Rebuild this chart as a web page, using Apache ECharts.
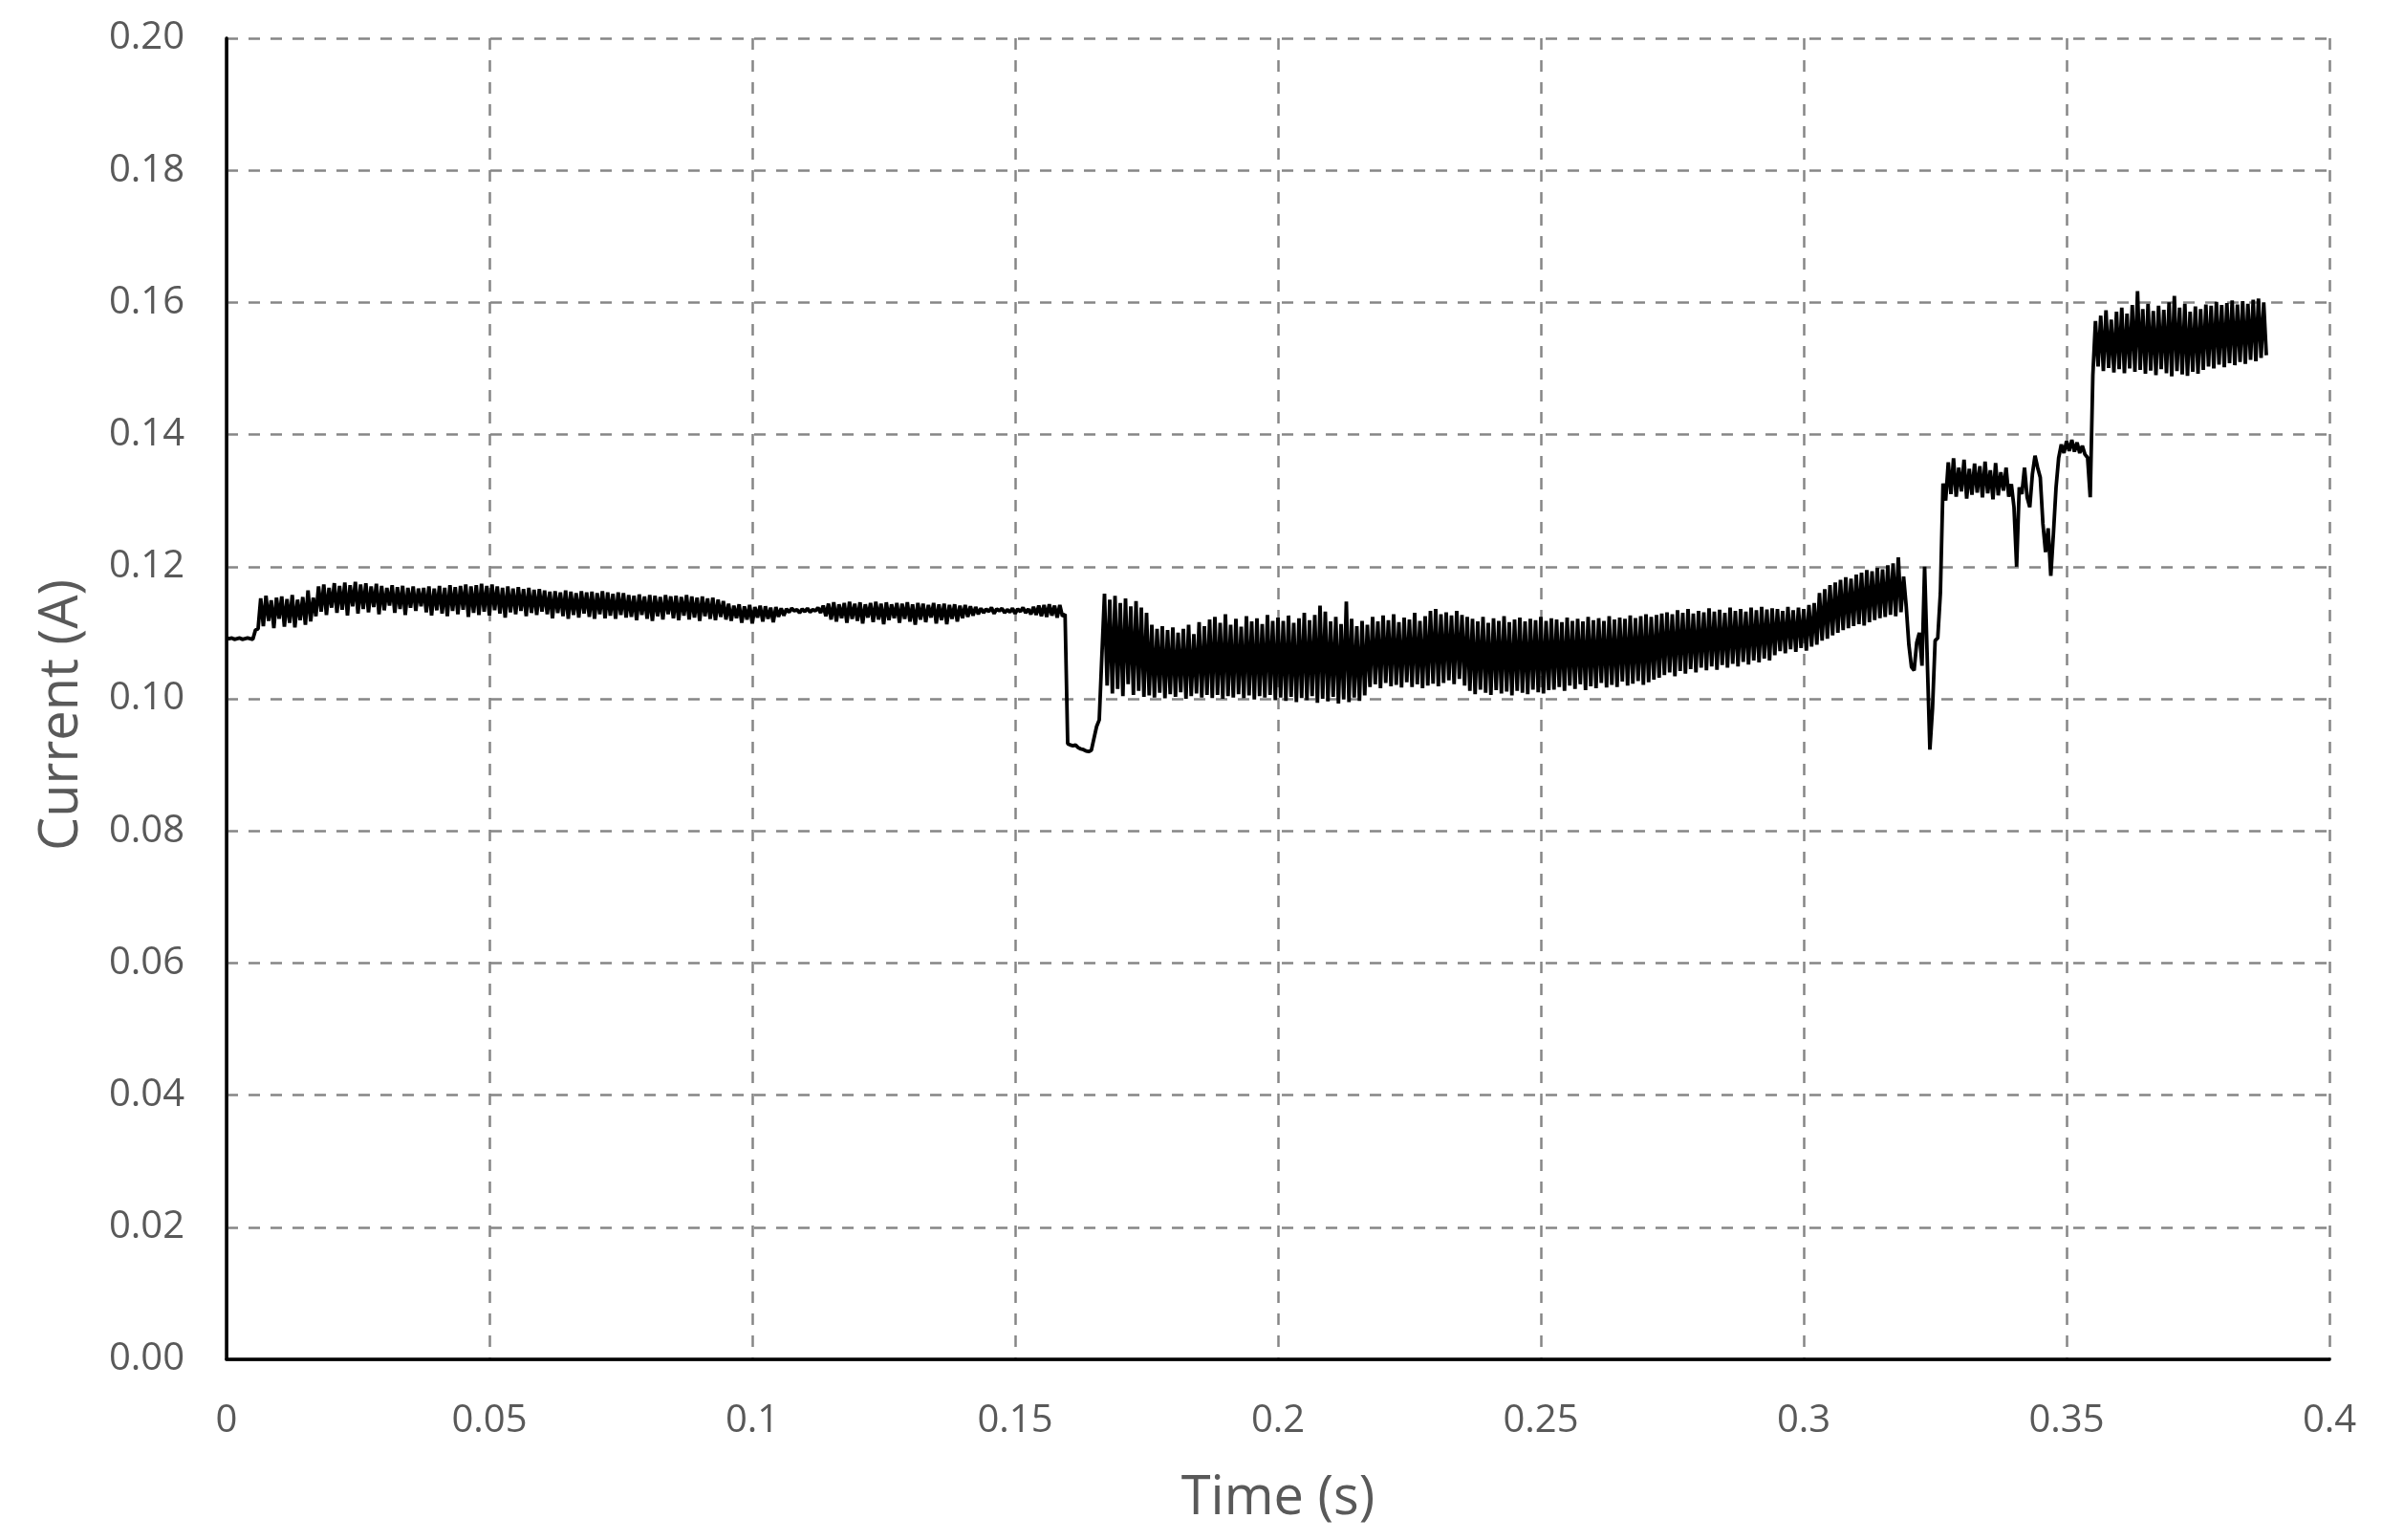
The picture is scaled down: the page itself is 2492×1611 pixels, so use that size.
<!DOCTYPE html>
<html>
<head>
<meta charset="utf-8">
<script src="https://cdn.jsdelivr.net/npm/echarts@6/dist/echarts.min.js"></script>
<style>
  html, body { margin: 0; padding: 0; background: #ffffff; }
  #chart { width: 2492px; height: 1611px; }
</style>
</head>
<body>
<div id="chart"></div>
<script>
// Sampling interval of the recorded current (s)
const SAMPLE_DT = 0.0005;

// Tick labels
const xTickLabels = ['0', '0.05', '0.1', '0.15', '0.2', '0.25', '0.3', '0.35', '0.4'];
const yTickLabels = ['0.00', '0.02', '0.04', '0.06', '0.08', '0.10', '0.12', '0.14', '0.16', '0.18', '0.20'];

// Current (A), consecutive samples
const idleStart = [0.1092,0.1091,0.1092,0.1090,0.1091,0.1092,0.1090,0.1091,0.1092,0.1091,0.1090,0.1104,0.1106];
const rampA = [0.1152,0.1110,0.1156,0.1118,0.1149,0.1107,0.1153,0.1121,0.1155,0.1109,0.1151,0.1115,0.1157,0.1108,0.1150,0.1119,0.1154,0.1112,0.1164,0.1117,0.1153,0.1125];
const plateauA = [0.1170,0.1132,0.1173,0.1127,0.1168,0.1138,0.1175,0.1130,0.1171,0.1135,0.1176,0.1126,0.1172,0.1140,0.1177,0.1129,0.1173,0.1136,0.1175,0.1131,0.1170,0.1139,0.1174,0.1128,0.1171,0.1134,0.1168,0.1141,0.1172,0.1130,0.1169,0.1136,0.1171,0.1127,0.1168,0.1138,0.1170,0.1133,0.1167,0.1140];
const plateauB = [0.1168,0.1131,0.1170,0.1126,0.1167,0.1134,0.1171,0.1129,0.1168,0.1125,0.1172,0.1133,0.1169,0.1128,0.1171,0.1135,0.1173,0.1124,0.1170,0.1130,0.1172,0.1127,0.1174,0.1132,0.1171,0.1126,0.1173,0.1134,0.1170,0.1129,0.1168,0.1123,0.1170,0.1131,0.1167,0.1128,0.1169,0.1133,0.1166,0.1125,0.1168,0.1130,0.1165,0.1127,0.1166,0.1132];
const plateauC = [0.1164,0.1128,0.1162,0.1122,0.1163,0.1130,0.1161,0.1125,0.1164,0.1121,0.1162,0.1127,0.1160,0.1123,0.1163,0.1129,0.1161,0.1124,0.1162,0.1121,0.1160,0.1128,0.1163,0.1122,0.1161,0.1126,0.1159,0.1121,0.1161,0.1127,0.1160,0.1123];
const plateauD = [0.1157,0.1124,0.1156,0.1119,0.1158,0.1127,0.1155,0.1121,0.1157,0.1118,0.1156,0.1125,0.1154,0.1120,0.1157,0.1128,0.1155,0.1122,0.1156,0.1119,0.1154,0.1126,0.1157,0.1120,0.1155,0.1123,0.1153,0.1118,0.1155,0.1125,0.1152,0.1121,0.1153,0.1119,0.1150,0.1124,0.1148,0.1120];
const plateauE = [0.1144,0.1118,0.1141,0.1122,0.1143,0.1115,0.1140,0.1120,0.1142,0.1114,0.1139,0.1123,0.1141,0.1117,0.1140,0.1121,0.1138,0.1116,0.1139,0.1124,0.1137,0.1126];
const quietA = [0.1136,0.1131,0.1137,0.1133,0.1135,0.1130,0.1136,0.1132,0.1137,0.1131,0.1135,0.1133,0.1138,0.1130];
const plateauF = [0.1141,0.1125,0.1144,0.1120,0.1146,0.1117,0.1143,0.1122,0.1145,0.1115,0.1147,0.1121,0.1144,0.1118,0.1146,0.1114,0.1143,0.1123,0.1145,0.1116,0.1147,0.1120,0.1144,0.1113,0.1146,0.1119,0.1143,0.1122,0.1145,0.1115,0.1144,0.1121,0.1146,0.1117,0.1143,0.1112,0.1145,0.1120,0.1144,0.1116,0.1142,0.1123,0.1145,0.1114,0.1143,0.1119,0.1144,0.1113,0.1142,0.1121,0.1143,0.1117,0.1141,0.1122,0.1142,0.1124,0.1140,0.1126,0.1139,0.1128];
const quietB = [0.1137,0.1130,0.1136,0.1132,0.1138,0.1129,0.1136,0.1133,0.1137,0.1130,0.1135,0.1131,0.1137,0.1129,0.1136,0.1132,0.1138,0.1130,0.1136,0.1128,0.1139,0.1127,0.1141,0.1125,0.1142,0.1124,0.1143,0.1126,0.1141,0.1123,0.1142,0.1125,0.1128];
const dropA = [0.0932,0.0930,0.0929,0.0930,0.0926,0.0924,0.0923,0.0921,0.0920,0.0922,0.0940,0.0958,0.0968,0.1065,0.1159];
const noisyA = [0.1020,0.1150,0.1008,0.1156,0.1015,0.1145,0.1004,0.1152,0.1022,0.1140,0.1006,0.1148,0.1012,0.1138,0.1003,0.1130];
const noisyB = [0.1005,0.1112,0.1002,0.1106,0.1009,0.1110,0.1001,0.1104,0.1007,0.1108,0.1003,0.1100,0.1010,0.1106,0.1000,0.1112,0.1004,0.1098,0.1008,0.1116,0.1002,0.1110,0.1006,0.1120];
const noisyC = [0.1001,0.1124,0.1006,0.1115,0.1000,0.1128,0.1004,0.1112,0.1002,0.1121,0.1007,0.1109,0.1001,0.1125,0.1005,0.1117,0.0999,0.1122,0.1004,0.1113,0.1002,0.1127,0.1006,0.1118,0.0998,0.1123];
const noisyD = [0.1002,0.1118,0.0997,0.1126,0.1003,0.1115,0.0995,0.1122,0.1001,0.1130,0.0998,0.1119,0.1004,0.1127,0.0994,0.1141,0.1000,0.1132,0.0996,0.1117,0.1003,0.1124,0.0993,0.1113,0.0999,0.1147,0.0995,0.1121,0.1002,0.1110,0.0997,0.1118,0.1005,0.1112];
const noisyE = [0.1018,0.1124,0.1022,0.1117,0.1016,0.1126,0.1024,0.1119,0.1019,0.1128,0.1021,0.1116,0.1017,0.1123,0.1025,0.1120,0.1018,0.1130,0.1022,0.1118,0.1016,0.1125,0.1020,0.1133,0.1023,0.1136,0.1019,0.1128];
const noisyF = [0.1024,0.1131,0.1028,0.1126,0.1022,0.1133,0.1030,0.1127,0.1020,0.1124];
const noisyG = [0.1012,0.1121,0.1007,0.1117,0.1014,0.1124,0.1009,0.1115,0.1006,0.1122,0.1013,0.1118,0.1008,0.1125,0.1011,0.1116,0.1005,0.1120,0.1012,0.1123,0.1009,0.1117,0.1007,0.1121,0.1014,0.1119,0.1010,0.1124,0.1008,0.1118,0.1013,0.1122];
const noisyH = [0.1014,0.1120,0.1018,0.1116,0.1012,0.1123,0.1020,0.1118,0.1015,0.1121,0.1022,0.1117,0.1013,0.1124,0.1019,0.1119,0.1016,0.1122,0.1024,0.1118,0.1017,0.1125,0.1021,0.1120,0.1018,0.1123,0.1026,0.1121,0.1020,0.1126,0.1023,0.1122,0.1027,0.1125,0.1021,0.1128,0.1025,0.1124,0.1029,0.1127,0.1032,0.1129];
const noisyI = [0.1036,0.1131,0.1040,0.1128,0.1034,0.1134,0.1042,0.1130,0.1038,0.1136,0.1045,0.1129,0.1040,0.1133,0.1047,0.1131,0.1043,0.1137,0.1049,0.1132,0.1044,0.1135,0.1051,0.1130,0.1047,0.1138,0.1053,0.1133,0.1049,0.1136,0.1056,0.1132,0.1052,0.1138,0.1058,0.1134,0.1055,0.1139,0.1061,0.1135,0.1058,0.1137];
const noisyJ = [0.1066,0.1136,0.1072,0.1133,0.1069,0.1139,0.1075,0.1134,0.1071,0.1138,0.1077,0.1136,0.1073,0.1142,0.1079,0.1145];
const risingA = [0.1082,0.1160,0.1088,0.1166,0.1091,0.1172,0.1096,0.1176,0.1100,0.1180,0.1104,0.1184,0.1107,0.1182,0.1110,0.1188,0.1113,0.1191,0.1111,0.1195,0.1116,0.1193,0.1119,0.1198,0.1122,0.1196,0.1124,0.1202,0.1127,0.1205,0.1125,0.1214,0.1131];
const transientA = [0.1185,0.1140,0.1082,0.1048,0.1043,0.1085,0.1100,0.1050,0.1200,0.1060,0.0923,0.0985,0.1088,0.1092,0.1160,0.1326,0.1300];
const stepB = [0.1358,0.1310,0.1364,0.1306,0.1350,0.1314,0.1362,0.1303,0.1348,0.1309,0.1356,0.1312,0.1352,0.1305,0.1359,0.1311,0.1346,0.1302,0.1357,0.1308,0.1343,0.1315,0.1350,0.1306];
const transientB = [0.1325,0.1290,0.1200,0.1320,0.1310,0.1350,0.1305,0.1290,0.1340,0.1368,0.1350,0.1335,0.1265,0.1222,0.1258,0.1186,0.1250,0.1320,0.1365];
const stepC = [0.1385,0.1372,0.1390,0.1375,0.1392,0.1374,0.1388,0.1372,0.1383,0.1370,0.1365,0.1305,0.1490,0.1572];
const stepD = [0.1503,0.1580,0.1496,0.1588,0.1501,0.1574,0.1494,0.1586,0.1499,0.1592,0.1493,0.1583,0.1500,0.1596,0.1495,0.1617,0.1498,0.1590,0.1492,0.1598,0.1497,0.1587,0.1490,0.1595,0.1499,0.1589,0.1493,0.1600,0.1488,0.1610,0.1496,0.1592,0.1491,0.1598,0.1489,0.1586,0.1495,0.1594,0.1492,0.1590,0.1498,0.1597,0.1503,0.1595,0.1500,0.1601,0.1506,0.1596,0.1502,0.1599,0.1508,0.1603,0.1505,0.1597,0.1510,0.1602,0.1507,0.1598,0.1513,0.1604,0.1511,0.1606,0.1516,0.1600,0.1520];

const current = [].concat(idleStart, rampA, plateauA, plateauB, plateauC, plateauD, plateauE, quietA,
  plateauF, quietB, dropA, noisyA, noisyB, noisyC, noisyD, noisyE, noisyF, noisyG, noisyH, noisyI,
  noisyJ, risingA, transientA, stepB, transientB, stepC, stepD);

const seriesData = current.map((v, i) => [Number((i * SAMPLE_DT).toFixed(4)), v]);

const FONT = '"Open Sans", "Noto Sans", sans-serif';
const TEXT = '#595959';
const GRID_LINE = { show: true, lineStyle: { color: '#868686', width: 2.5, type: [12, 11] } };

const chart = echarts.init(document.getElementById('chart'), null, { renderer: 'canvas' });
chart.setOption({
  animation: false,
  backgroundColor: '#ffffff',
  grid: { left: 237, right: 55, top: 40, bottom: 189, containLabel: false },
  xAxis: [
    {
      type: 'value', min: 0, max: 0.4, interval: 0.05, position: 'bottom',
      name: 'Time (s)', nameLocation: 'middle', nameGap: 118,
      nameTextStyle: { fontFamily: FONT, fontSize: 56, color: TEXT },
      axisLine: { show: true, onZero: false, lineStyle: { color: '#7f7f7f', width: 3 } },
      axisTick: { show: false },
      axisLabel: {
        margin: 45, fontFamily: FONT, fontSize: 40, color: TEXT,
        formatter: (v) => xTickLabels[Math.round(v / 0.05)]
      },
      splitLine: GRID_LINE
    },
    {
      type: 'value', min: 0, max: 0.4, position: 'top',
      axisLine: { show: true, lineStyle: { color: '#000000', width: 3.5 } },
      axisTick: { show: false }, axisLabel: { show: false }, splitLine: { show: false }
    }
  ],
  yAxis: [
    {
      type: 'value', min: 0, max: 0.2, interval: 0.02, position: 'left',
      name: 'Current (A)', nameLocation: 'middle', nameGap: 144,
      nameTextStyle: { fontFamily: FONT, fontSize: 56, color: TEXT, padding: [0, 34, 0, 0] },
      axisLine: { show: true, onZero: false, lineStyle: { color: '#7f7f7f', width: 3 } },
      axisTick: { show: false },
      axisLabel: {
        margin: 44, fontFamily: FONT, fontSize: 40, color: TEXT,
        formatter: (v) => yTickLabels[Math.round(v / 0.02)]
      },
      splitLine: GRID_LINE
    },
    {
      type: 'value', min: 0, max: 0.2, position: 'right',
      axisLine: { show: true, lineStyle: { color: '#000000', width: 3.5 } },
      axisTick: { show: false }, axisLabel: { show: false }, splitLine: { show: false }
    }
  ],
  series: [{
    type: 'line',
    xAxisIndex: 0, yAxisIndex: 0,
    data: seriesData,
    showSymbol: false,
    symbol: 'none',
    sampling: null,
    lineStyle: { color: '#000000', width: 3.8 },
    z: 5
  }]
});
</script>
</body>
</html>
